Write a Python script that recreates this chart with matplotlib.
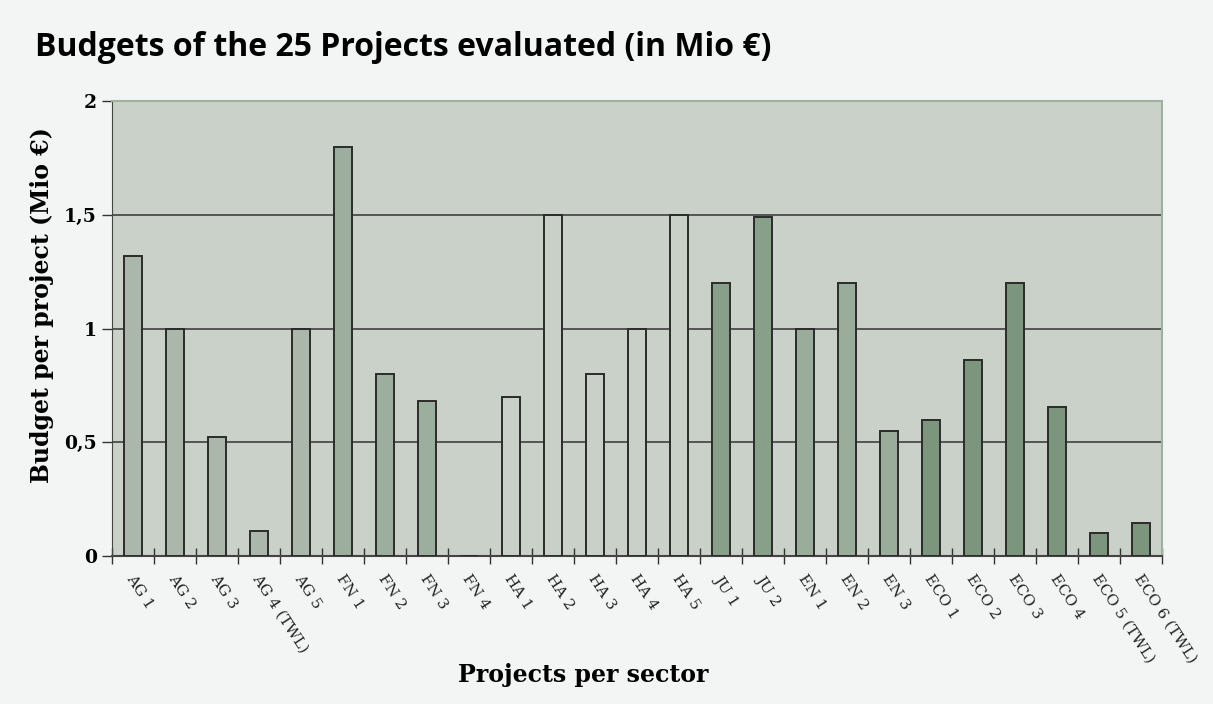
import numpy as np
import matplotlib
matplotlib.use("Agg")
from matplotlib import pyplot as plt

# Datos
projects = ["AG 1", "AG 2", "AG 3", "AG 4 (TWL)", "AG 5",
            "FN 1", "FN 2", "FN 3", "FN 4",
            "HA 1", "HA 2", "HA 3", "HA 4", "HA 5",
            "JU 1", "JU 2",
            "EN 1", "EN 2", "EN 3",
            "ECO 1", "ECO 2", "ECO 3", "ECO 4", "ECO 5 (TWL)", "ECO 6 (TWL)"]
budgets = [1.32, 1.0, 0.525, 0.11, 1.0,
           1.8, 0.8, 0.68, 0.0,
           0.7, 1.5, 0.8, 1.0, 1.5,
           1.2, 1.49,
           1.0, 1.2, 0.55,
           0.6, 0.86, 1.2, 0.655, 0.1, 0.145]
sectors = ["AG"] * 5 + ["FN"] * 4 + ["HA"] * 5 + ["JU"] * 2 + ["EN"] * 3 + ["ECO"] * 6
sector_colors = {"AG": "#aab7aa", "FN": "#9cae9d", "HA": "#c9d0c7",
                 "JU": "#889f89", "EN": "#9aac9a", "ECO": "#7c967e"}

y_ticks = [0, 0.5, 1, 1.5, 2]
y_tick_labels = ["0", "0,5", "1", "1,5", "2"]

serif = ["DejaVu Serif"]

fig = plt.figure(figsize=(12.13, 7.04), dpi=100, facecolor="#f3f5f4")
ax = fig.add_axes([0.0923, 0.2102, 0.8657, 0.6463])
ax.set_facecolor("#cad1c9")

x = np.arange(len(projects))
colors = [sector_colors[s] for s in sectors]
ax.bar(x, budgets, width=0.42, color=colors, edgecolor="#2b2b2b", linewidth=1.4, zorder=3)

ax.set_xlim(-0.5, len(projects) - 0.5)
ax.set_ylim(0, 2)

# lineas de cuadricula
for v in y_ticks[1:-1]:
    ax.axhline(v, color="#333333", linewidth=1.1, zorder=1)

ax.set_yticks(y_ticks)
ax.set_yticklabels(y_tick_labels, fontfamily=serif, fontweight="bold", fontsize=13.5)
ax.tick_params(axis="y", direction="out", length=7, width=1, color="#333333", pad=4)

# marcas en los limites de las categorias
ax.set_xticks(np.arange(-0.5, len(projects), 1.0))
ax.set_xticklabels([])
ax.tick_params(axis="x", direction="inout", length=12, width=1, color="#333333")
for xi, name in zip(x, projects):
    ax.text(xi + 0.05, -0.07, name, rotation=-57, rotation_mode="anchor",
            ha="left", va="top", fontsize=11, fontfamily=serif, color="#222222")

ax.spines["left"].set_color("#444444")
ax.spines["bottom"].set_color("#444444")
ax.spines["bottom"].set_linewidth(1.5)
ax.spines["top"].set_color("#9fb09f")
ax.spines["right"].set_color("#9fb09f")
ax.spines["top"].set_linewidth(1.5)
ax.spines["right"].set_linewidth(1.5)

ax.set_ylabel("Budget per project (Mio €)", fontfamily=serif, fontweight="bold",
              fontsize=17, va="center")
ax.yaxis.set_label_coords(-0.067, 0.552)
fig.text(0.481, 0.041, "Projects per sector", fontfamily=serif, fontweight="bold",
         fontsize=17, ha="center", va="center")

fig.text(0.029, 0.932, "Budgets of the 25 Projects evaluated (in Mio €)",
         fontfamily="Open Sans", fontweight="bold", fontsize=23, ha="left", va="center")

plt.savefig("out.png", dpi=100, facecolor=fig.get_facecolor())
